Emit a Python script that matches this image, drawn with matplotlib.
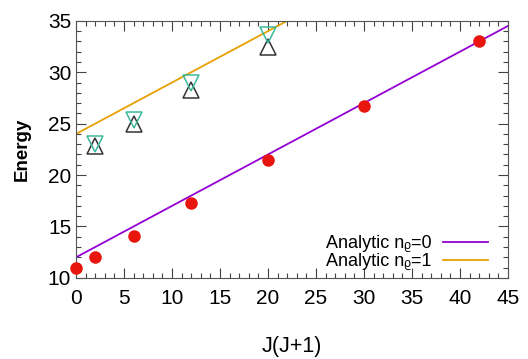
import matplotlib
matplotlib.use("Agg")
import matplotlib.pyplot as plt
from matplotlib.ticker import MultipleLocator

plt.rcParams['font.family'] = ['Liberation Sans', 'DejaVu Sans']

# data
jj = [0, 2, 6, 12, 20, 30, 42]
e_n0 = [11.0, 12.0, 14.1, 17.3, 21.5, 26.7, 33.0]

jj_n1 = [2, 6, 12, 20]
e_n1_up = [22.8, 25.0, 28.3, 32.5]
e_n1_down = [23.0, 25.4, 29.0, 33.6]

line_x = [0, 45]
analytic_n0 = [12.0, 34.5]
analytic_n1 = [24.0, 46.5]

fig = plt.figure(figsize=(5.28, 3.59), dpi=100)
ax = fig.add_axes([0.144, 0.226, 0.818, 0.716])

ax.plot(line_x, analytic_n0, color='#9400d3', lw=1.3, label='Analytic n\u1d68=0')
ax.plot(line_x, analytic_n1, color='#e6a000', lw=1.3, label='Analytic n\u1d68=1')

ax.plot(jj, e_n0, 'o', color='#e8150e', ms=8, clip_on=False, zorder=5)
ax.plot(jj_n1, e_n1_up, '^', mfc='none', mec='#333333', ms=11, mew=1.1, zorder=4)
ax.plot(jj_n1, e_n1_down, 'v', mfc='none', mec='#3cb89a', ms=11, mew=1.1, zorder=4)

ax.set_xlim(0, 45)
ax.set_ylim(10, 35)
ax.xaxis.set_major_locator(MultipleLocator(5))
ax.xaxis.set_minor_locator(MultipleLocator(1))
ax.yaxis.set_major_locator(MultipleLocator(5))
ax.yaxis.set_minor_locator(MultipleLocator(1))
ax.tick_params(which='both', direction='in', top=True, right=True, labelsize=15, width=0.8, color='#444444')
ax.tick_params(which='major', length=7)
ax.tick_params(which='minor', length=3.5)
ax.tick_params(axis='x', pad=8)
for s in ax.spines.values():
    s.set_color('#555555')

ax.set_xlabel('J(J+1)', fontsize=15.5, labelpad=20)
ax.set_ylabel('Energy', fontsize=13.5, fontweight='bold', labelpad=12)

ax.legend(loc='lower right', frameon=False, markerfirst=False, fontsize=13,
          handlelength=2.5, handletextpad=0.6, labelspacing=0.05,
          borderaxespad=0.0, bbox_to_anchor=(0.97, 0.002))

fig.savefig('out.png', dpi=100)
